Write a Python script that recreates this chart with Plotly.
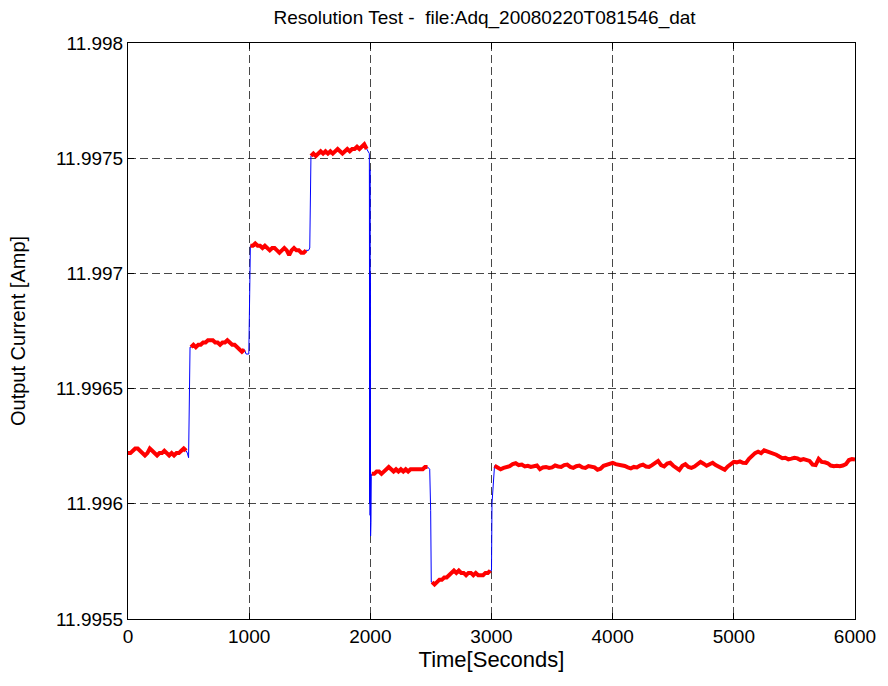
import numpy as np
import plotly.graph_objects as go

# steady-state plateaus (red), sampled every `step` seconds from `start`
seg1_start, seg1_step = 0, 20
seg1 = [11.99622, 11.99622, 11.99623, 11.99624, 11.99624, 11.99623, 11.99622, 11.99621,
        11.99622, 11.99624, 11.99623, 11.99622, 11.99621, 11.99622, 11.99622, 11.99623,
        11.99622, 11.99621, 11.99622, 11.99621, 11.99622, 11.99622, 11.99623, 11.99624,
        11.99623]

seg2_start, seg2_step = 520, 20
seg2 = [11.99668, 11.99669, 11.99668, 11.99669, 11.99669, 11.99670, 11.99670, 11.99671,
        11.99671, 11.99671, 11.99670, 11.99670, 11.99669, 11.99670, 11.99670, 11.99671,
        11.99670, 11.99669, 11.99669, 11.99668, 11.99667, 11.99666, 11.99667]

seg3_start, seg3_step = 1010, 20
seg3 = [11.99712, 11.99712, 11.99713, 11.99712, 11.99712, 11.99711, 11.99712, 11.99711,
        11.99710, 11.99711, 11.99711, 11.99710, 11.99709, 11.99710, 11.99711, 11.99710,
        11.99708, 11.99710, 11.99711, 11.99710, 11.99710, 11.99709, 11.99709, 11.99710]

seg4_start, seg4_step = 1510, 20
seg4 = [11.99751, 11.99752, 11.99751, 11.99752, 11.99753, 11.99752, 11.99753, 11.99752,
        11.99753, 11.99752, 11.99753, 11.99754, 11.99753, 11.99752, 11.99753, 11.99754,
        11.99753, 11.99754, 11.99754, 11.99755, 11.99754, 11.99755, 11.99756, 11.99754]

seg5_start, seg5_step = 2012, 20
seg5 = [11.99613, 11.99613, 11.99614, 11.99614, 11.99613, 11.99614, 11.99615, 11.99616,
        11.99615, 11.99614, 11.99615, 11.99614, 11.99615, 11.99614, 11.99615, 11.99614,
        11.99615, 11.99615, 11.99615, 11.99615, 11.99615, 11.99615, 11.99616, 11.99616]

seg6_start, seg6_step = 2510, 20
seg6 = [11.99566, 11.99565, 11.99566, 11.99567, 11.99567, 11.99568, 11.99568, 11.99569,
        11.99570, 11.99571, 11.99570, 11.99571, 11.99570, 11.99570, 11.99569, 11.99570,
        11.99570, 11.99569, 11.99570, 11.99569, 11.99569, 11.99569, 11.99570, 11.99570,
        11.99571]

seg7_start, seg7_step = 3025, 25
seg7 = [11.996165, 11.996158, 11.996150, 11.996156, 11.996160, 11.996163, 11.996172, 11.996176,
        11.996168, 11.996170, 11.996162, 11.996165, 11.996160, 11.996163, 11.996166, 11.996150,
        11.996158, 11.996160, 11.996156, 11.996158, 11.996166, 11.996162, 11.996160, 11.996168,
        11.996170, 11.996160, 11.996156, 11.996163, 11.996166, 11.996158, 11.996156, 11.996164,
        11.996160, 11.996158, 11.996148, 11.996152, 11.996165, 11.996170, 11.996175, 11.996178,
        11.996172, 11.996170, 11.996166, 11.996164, 11.996158, 11.996154, 11.996160, 11.996158,
        11.996166, 11.996170, 11.996162, 11.996160, 11.996168, 11.996176, 11.996186, 11.996168,
        11.996162, 11.996175, 11.996178, 11.996165, 11.996158, 11.996147, 11.996165, 11.996172,
        11.996160, 11.996156, 11.996162, 11.996170, 11.996182, 11.996174, 11.996165, 11.996172,
        11.996178, 11.996168, 11.996160, 11.996155, 11.996148, 11.996162, 11.996175, 11.996182,
        11.996180, 11.996184, 11.996178, 11.996177, 11.996195, 11.996210, 11.996220, 11.996226,
        11.996220, 11.996232, 11.996228, 11.996222, 11.996218, 11.996213, 11.996205, 11.996198,
        11.996200, 11.996193, 11.996196, 11.996200, 11.996197, 11.996190, 11.996194, 11.996188,
        11.996186, 11.996170, 11.996168, 11.996195, 11.996182, 11.996180, 11.996176, 11.996166,
        11.996163, 11.996165, 11.996163, 11.996166, 11.996172, 11.996190, 11.996194, 11.996192]

# step transitions between plateaus (blue only)
trans_t = [490, 500, 505, 512,
           975, 997, 1003, 1008,
           1490, 1500, 1505,
           1992, 1995, 1997, 1998, 1999, 2002, 2005, 2008,
           2490, 2498, 2503,
           3000, 3004, 3015]
trans_i = [11.99622, 11.99620, 11.99645, 11.99668,
           11.99665, 11.99665, 11.99694, 11.99712,
           11.99710, 11.99711, 11.99735,
           11.99752, 11.99600, 11.99745, 11.99595, 11.99700, 11.99586, 11.99592, 11.99612,
           11.99615, 11.99597, 11.99566,
           11.99571, 11.99600, 11.99610]

segments = [
    (seg1_start, seg1_step, seg1),
    (seg2_start, seg2_step, seg2),
    (seg3_start, seg3_step, seg3),
    (seg4_start, seg4_step, seg4),
    (seg5_start, seg5_step, seg5),
    (seg6_start, seg6_step, seg6),
    (seg7_start, seg7_step, seg7),
]

red_t, red_i = [], []
blue_t, blue_i = list(trans_t), list(trans_i)
for start, step, vals in segments:
    t = (start + step * np.arange(len(vals))).tolist()
    red_t += t + [None]
    red_i += list(vals) + [None]
    blue_t += t
    blue_i += list(vals)

order = np.argsort(blue_t, kind="stable")
blue_t = [blue_t[k] for k in order]
blue_i = [blue_i[k] for k in order]

font = "Liberation Sans, Arial, Helvetica"

fig = go.Figure()
fig.add_trace(go.Scatter(x=blue_t, y=blue_i, mode="lines",
                         line=dict(color="#0000ff", width=1)))
fig.add_trace(go.Scatter(x=red_t, y=red_i, mode="lines",
                         line=dict(color="#ff0000", width=4)))

yticks = [11.9955, 11.996, 11.9965, 11.997, 11.9975, 11.998]
axis = dict(showline=True, linecolor="black", linewidth=1, mirror="ticks",
            ticks="inside", ticklen=6, tickcolor="black",
            showgrid=True, gridcolor="rgba(0,0,0,0.72)", griddash="8px,4px",
            gridwidth=1, zeroline=False, tickfont=dict(size=19, color="black"))

# the page body has an 8px margin, so the figure is shrunk by that much
fig.update_layout(
    width=880, height=670,
    margin=dict(l=120, r=27, t=35, b=54),
    plot_bgcolor="white", paper_bgcolor="white",
    showlegend=False,
    font=dict(family=font, size=18, color="black"),
    title=dict(text="Resolution Test -  file:Adq_20080220T081546_dat",
               x=0.5415, xanchor="center", y=0.986, yanchor="middle",
               font=dict(size=19)),
)
fig.update_xaxes(range=[0, 6000], dtick=1000,
                 title=dict(text="Time[Seconds]", standoff=4), **axis)
fig.update_yaxes(range=[11.9955, 11.998], tickvals=yticks,
                 ticktext=["11.9955", "11.996", "11.9965", "11.997", "11.9975", "11.998"],
                 **axis)
fig.add_annotation(text="Output Current [Amp]", textangle=-90,
                   xref="paper", yref="paper", x=0, y=0.5,
                   xanchor="center", yanchor="middle", xshift=-110,
                   showarrow=False, font=dict(size=20))

fig.write_html("out.html")
